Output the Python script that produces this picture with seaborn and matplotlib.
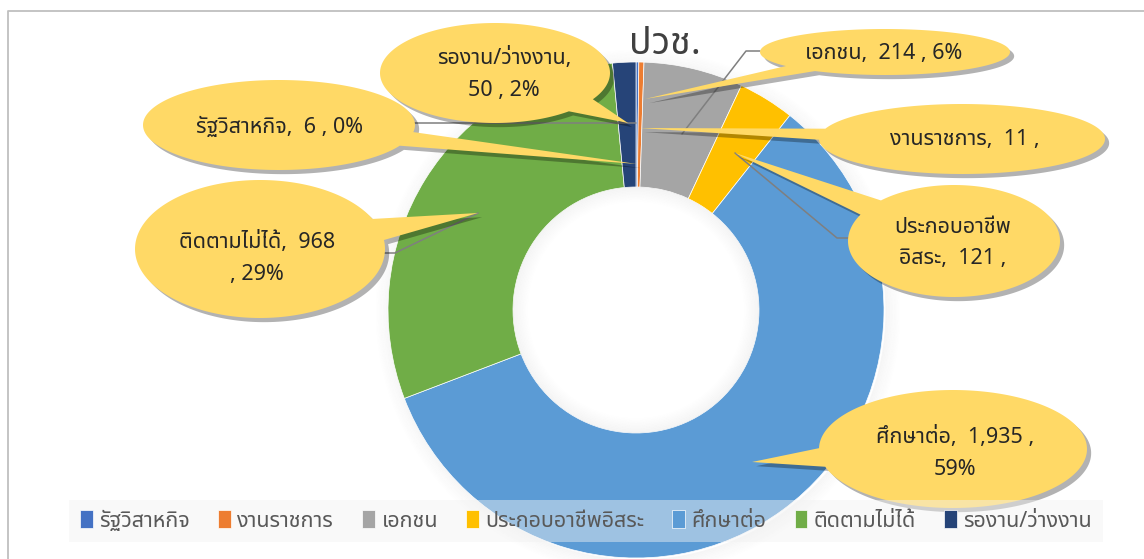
import numpy as np
import matplotlib
matplotlib.use('Agg')
import matplotlib.pyplot as plt
import seaborn as sns
from matplotlib import font_manager as fm, ft2font, patheffects as pe
from matplotlib.patches import Polygon, Wedge

# data
categories = ['รัฐวิสาหกิจ', 'งานราชการ', 'เอกชน', 'ประกอบอาชีพอิสระ',
              'ศึกษาต่อ', 'ติดตามไม่ได้', 'รองาน/ว่างงาน']
counts = [6, 11, 214, 121, 1935, 968, 50]
label_texts = ['รัฐวิสาหกิจ,  6 , 0%', 'งานราชการ,  11 ,', 'เอกชน,  214 , 6%',
               'ประกอบอาชีพ\nอิสระ,  121 ,', 'ศึกษาต่อ,  1,935 ,\n59%',
               'ติดตามไม่ได้,  968\n, 29%', 'รองาน/ว่างงาน,\n50 , 2%']
colors = ['#4472C4', '#ED7D31', '#A5A5A5', '#FFC000', '#5B9BD5', '#70AD47', '#264478']
title = 'ปวช.'

W, H = 1144, 559


def Y(y):
    return H - y


# pick a font that has Thai glyphs
def thai_fonts():
    found = []
    for f in fm.fontManager.ttflist:
        try:
            if 0x0E01 in ft2font.FT2Font(f.fname).get_charmap():
                found.append(f.name)
        except Exception:
            pass
    return set(found)


found = thai_fonts()
pref = ['Noto Sans Thai', 'Noto Sans Thai UI', 'Sarabun', 'Loma', 'Garuda']
thai = next((p for p in pref if p in found), sorted(found)[0] if found else 'DejaVu Sans')

sns.set_theme(style='white')
plt.rcParams['font.family'] = [thai, 'Noto Sans', 'DejaVu Sans']

fig = plt.figure(figsize=(W / 100, H / 100), dpi=100)
ax = fig.add_axes([0, 0, 1, 1])

# donut with a soft shadow
cx, cy, R, r = 636, 310, 248, 123
for i in range(10):
    ax.add_patch(Wedge((cx + 2, Y(cy + 2)), R + 1 + i * 1.5, 0, 360, width=1.6,
                       facecolor='#000000', alpha=0.035 * (1 - i / 10), lw=0, zorder=1))
wedges, _ = ax.pie(counts, colors=colors, startangle=90, counterclock=False,
                   center=(cx, Y(cy)), radius=R,
                   wedgeprops=dict(width=R - r, edgecolor='white', linewidth=0.5))
for w in wedges:
    w.set_zorder(2)
for i in range(10):
    ax.add_patch(Wedge((cx, Y(cy)), r - i * 1.5, 0, 360, width=1.6,
                       facecolor='#000000', alpha=0.04 * (1 - i / 10), lw=0, zorder=3))

ax.text(665, Y(44), title, ha='center', va='center', fontsize=27,
        fontweight='bold', color='#404040', zorder=4)

# leader lines
leaders = [
    [(413, 123), (636, 123)],
    [(682, 134), (746, 51), (760, 51)],
    [(735, 153), (837, 238), (850, 238)],
    [(382, 253), (395, 253), (478, 213)],
]
for pts in leaders:
    ax.plot([p[0] for p in pts], [Y(p[1]) for p in pts], color='#7F7F7F', lw=1.1, zorder=5)

# callouts: ellipse centre, semi axes, tail tip, text position
callouts = {
    'รองาน/ว่างงาน': ((495, 73), 115, 50, (628, 123), (504, 74)),
    'รัฐวิสาหกิจ': ((279, 125), 136, 45, (637, 164), (279, 127)),
    'ติดตามไม่ได้': ((260, 249), 125, 69, (478, 213), (257, 258)),
    'เอกชน': ((885, 52), 125, 23, (645, 99), (884, 54)),
    'งานราชการ': ((962, 139), 143, 35, (640, 128), (965, 140)),
    'ประกอบอาชีพอิสระ': ((954, 241), 106, 56, (735, 153), (953, 243)),
    'ศึกษาต่อ': ((953, 449), 134, 59, (752, 462), (955, 453)),
}

for k, cat in enumerate(callouts):
    (ex, ey), a, b, (tx, ty), (lx, ly) = callouts[cat]
    phi = np.arctan2(-(ty - ey) / b, (tx - ex) / a)
    d = 0.16
    t = np.linspace(phi + d, phi + 2 * np.pi - d, 200)
    xs = ex + a * np.cos(t)
    ys = Y(ey) + b * np.sin(t)
    pts = np.column_stack([np.append(xs, tx), np.append(ys, Y(ty))])
    poly = Polygon(pts, closed=True, facecolor='#FFD966', edgecolor='none', zorder=6 + k)
    poly.set_path_effects([pe.SimplePatchShadow(offset=(3, -3), shadow_rgbFace='#000000', alpha=0.3),
                           pe.Normal()])
    ax.add_patch(poly)
    ax.text(lx, Y(ly), label_texts[categories.index(cat)], ha='center', va='center',
            fontsize=15.5, color='#262626', linespacing=1.65, zorder=6 + k)

# chart frame (cropped at right and bottom)
ax.plot([8, 8, W], [Y(H), Y(11), Y(11)], color='#BFBFBF', lw=1.3, zorder=0)

leg = ax.legend(wedges, categories, loc='center', bbox_to_anchor=(586 / W, 1 - 521 / H),
                ncol=7, frameon=True, facecolor='#F2F2F2', framealpha=0.45, edgecolor='none',
                fontsize=15.5, handlelength=0.6, handleheight=0.9, handletextpad=0.3,
                columnspacing=1.3, borderpad=0.5, fancybox=False)
leg.set_zorder(20)
for t in leg.get_texts():
    t.set_color('#595959')

ax.set_xlim(0, W)
ax.set_ylim(0, H)
ax.set_aspect('equal')
ax.axis('off')
fig.savefig('out.png', dpi=100, facecolor='white')
